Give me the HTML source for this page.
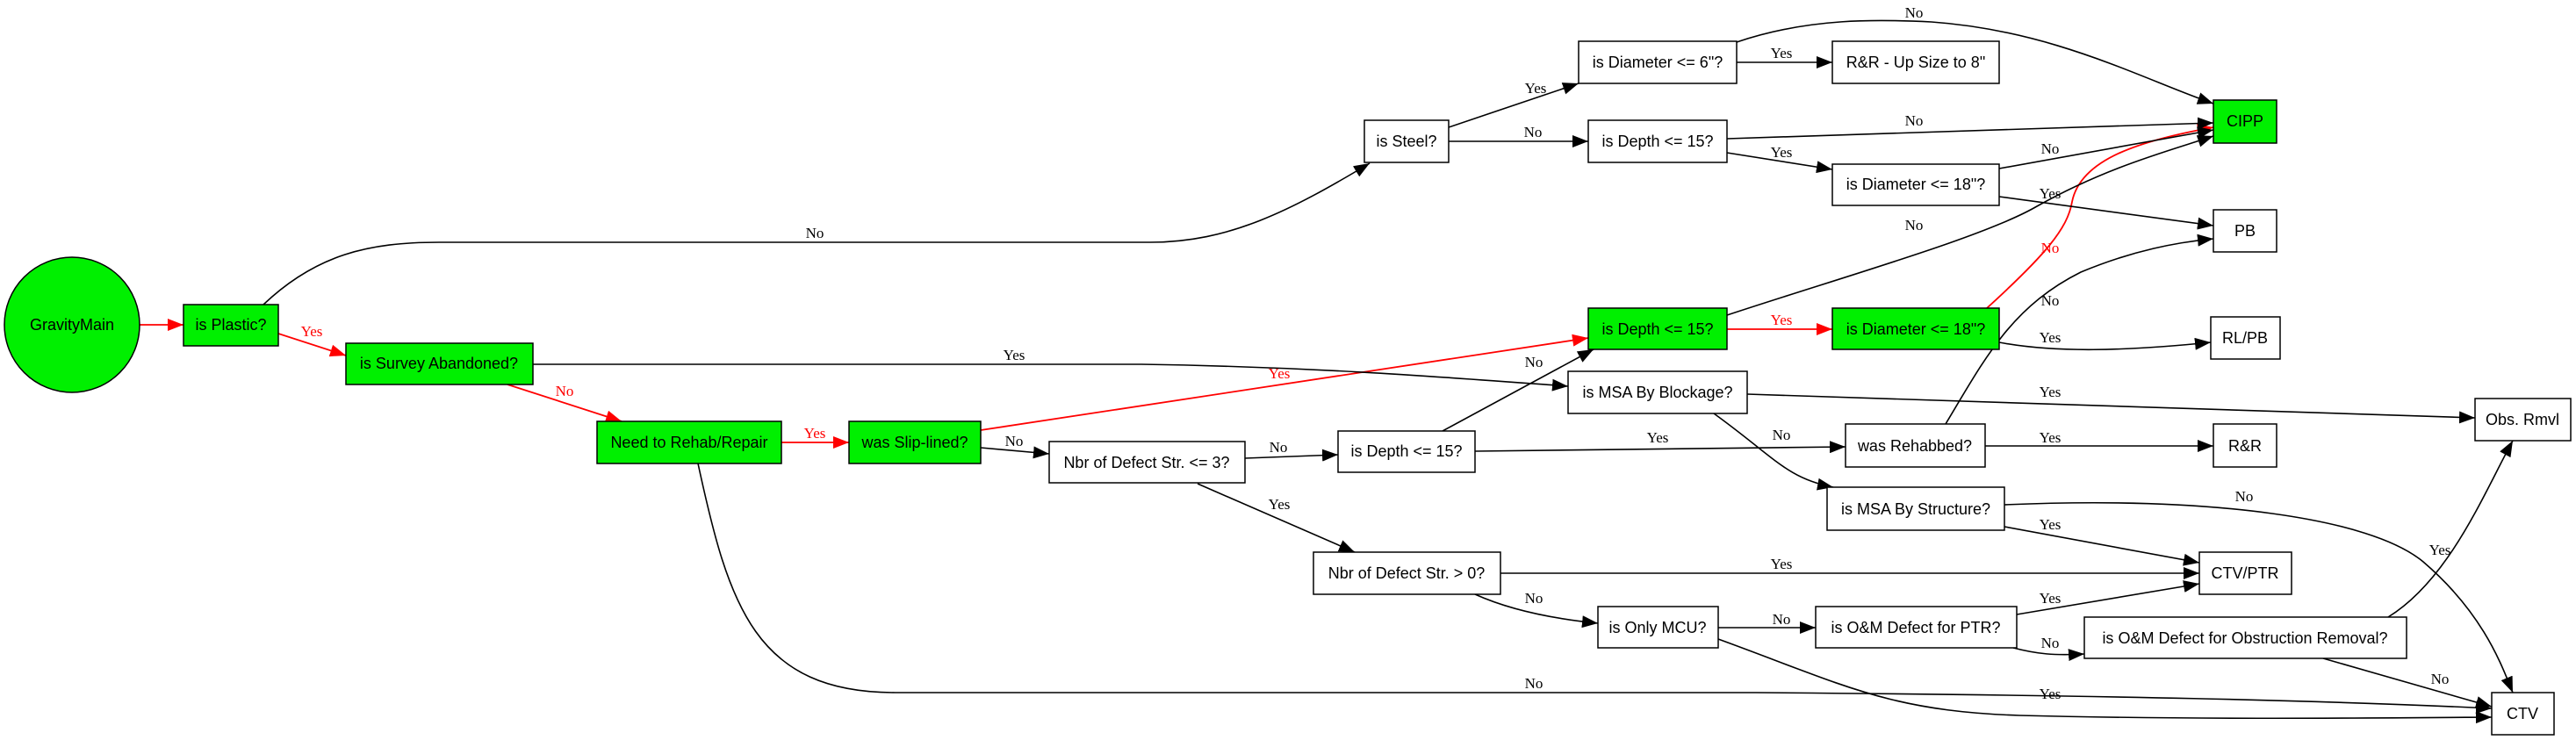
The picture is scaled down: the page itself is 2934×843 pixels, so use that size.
<!DOCTYPE html>
<html><head><meta charset="utf-8"><style>
html,body{margin:0;padding:0;background:#fff;}
svg{display:block;}
.n{fill:#fff;stroke:#000;stroke-width:1.5;}
.g{fill:#00f000;stroke:#000;stroke-width:1.5;}
.t{font-family:"Liberation Sans",sans-serif;font-size:18px;text-anchor:middle;dominant-baseline:central;}
.l{font-family:"Liberation Serif",serif;font-size:17px;text-anchor:middle;}
.r{fill:red;}
.e{fill:none;stroke:#000;stroke-width:1.6;}
.er{fill:none;stroke:red;stroke-width:1.8;}
</style></head><body>
<svg width="2934" height="843" viewBox="0 0 2934 843" xmlns="http://www.w3.org/2000/svg">
<defs>
<marker id="ab" markerWidth="18" markerHeight="14" refX="18" refY="7" orient="auto" markerUnits="userSpaceOnUse"><path d="M0,0 L18,7 L0,14z" fill="#000"/></marker>
<marker id="ar" markerWidth="18" markerHeight="14" refX="18" refY="7" orient="auto" markerUnits="userSpaceOnUse"><path d="M0,0 L18,7 L0,14z" fill="red"/></marker>
</defs>

<!-- edges -->
<path class="er" d="M159,370 L209,370" marker-end="url(#ar)"/>
<path class="er" d="M317,380 L394,405" marker-end="url(#ar)"/>
<path class="er" d="M578,438 L708,480" marker-end="url(#ar)"/>
<path class="er" d="M890,504 L967,504" marker-end="url(#ar)"/>
<path class="er" d="M1117,490 L1809,385" marker-end="url(#ar)"/>
<path class="er" d="M1967,375 L2087,375" marker-end="url(#ar)"/>
<path class="er" d="M2263,351 C2330,290 2355,260 2360,230 C2370,180 2440,160 2521,145" marker-end="url(#ar)"/>

<path class="e" d="M300,347 C360,290 420,276 500,276 L1310,276 C1400,276 1470,240 1560,186" marker-end="url(#ab)"/>
<path class="e" d="M1650,145 L1798,95" marker-end="url(#ab)"/>
<path class="e" d="M1650,161 L1809,161" marker-end="url(#ab)"/>
<path class="e" d="M1978,71 L2087,71" marker-end="url(#ab)"/>
<path class="e" d="M1978,48 C2060,20 2140,22 2200,25 C2340,35 2440,90 2521,118" marker-end="url(#ab)"/>
<path class="e" d="M1967,158 L2521,140" marker-end="url(#ab)"/>
<path class="e" d="M1967,174 L2087,193" marker-end="url(#ab)"/>
<path class="e" d="M2277,192 L2521,148" marker-end="url(#ab)"/>
<path class="e" d="M2277,224 L2521,257" marker-end="url(#ab)"/>
<path class="e" d="M1967,359 C2100,315 2260,270 2320,235 C2400,190 2470,172 2521,155" marker-end="url(#ab)"/>
<path class="e" d="M2277,390 C2340,402 2420,400 2518,390" marker-end="url(#ab)"/>
<path class="e" d="M2216,483 C2260,410 2290,350 2370,310 C2430,285 2480,276 2521,272" marker-end="url(#ab)"/>
<path class="e" d="M607,415 L1300,415 C1500,418 1650,430 1786,440" marker-end="url(#ab)"/>
<path class="e" d="M1117,510 L1195,517" marker-end="url(#ab)"/>
<path class="e" d="M1418,522 L1524,518" marker-end="url(#ab)"/>
<path class="e" d="M1364,551 L1543,629" marker-end="url(#ab)"/>
<path class="e" d="M1643,491 L1815,398" marker-end="url(#ab)"/>
<path class="e" d="M1680,514 L2102,509" marker-end="url(#ab)"/>
<path class="e" d="M1709,653 L2505,653" marker-end="url(#ab)"/>
<path class="e" d="M1680,677 C1720,695 1770,705 1820,710" marker-end="url(#ab)"/>
<path class="e" d="M795,528 C830,690 860,789 1020,789 L2000,789 C2400,792 2650,798 2838,807" marker-end="url(#ab)"/>
<path class="e" d="M1990,449 L2819,476" marker-end="url(#ab)"/>
<path class="e" d="M1952,471 C2020,520 2035,545 2088,555" marker-end="url(#ab)"/>
<path class="e" d="M2261,508 L2521,508" marker-end="url(#ab)"/>
<path class="e" d="M2283,575 C2520,565 2700,590 2760,640 C2830,700 2850,760 2862,789" marker-end="url(#ab)"/>
<path class="e" d="M2283,600 L2505,641" marker-end="url(#ab)"/>
<path class="e" d="M2297,700 L2505,665" marker-end="url(#ab)"/>
<path class="e" d="M1957,715 L2068,715" marker-end="url(#ab)"/>
<path class="e" d="M2293,738 C2320,745 2340,747 2374,745" marker-end="url(#ab)"/>
<path class="e" d="M2720,703 C2790,660 2830,560 2862,502" marker-end="url(#ab)"/>
<path class="e" d="M2646,750 L2838,805" marker-end="url(#ab)"/>
<path class="e" d="M1957,728 C2100,780 2150,810 2300,815 C2500,820 2700,818 2838,817" marker-end="url(#ab)"/>

<!-- nodes -->
<ellipse class="g" cx="82" cy="370" rx="77" ry="77"/>
<text class="t" x="82" y="370">GravityMain</text>
<rect class="g" x="209" y="347" width="108" height="47"/><text class="t" x="263" y="370">is Plastic?</text>
<rect class="g" x="394" y="391" width="213" height="47"/><text class="t" x="500" y="414">is Survey Abandoned?</text>
<rect class="g" x="680" y="480" width="210" height="48"/><text class="t" x="785" y="504">Need to Rehab/Repair</text>
<rect class="g" x="967" y="480" width="150" height="48"/><text class="t" x="1042" y="504">was Slip-lined?</text>
<rect class="n" x="1554" y="137" width="96" height="48"/><text class="t" x="1602" y="161">is Steel?</text>
<rect class="n" x="1798" y="47" width="180" height="48"/><text class="t" x="1888" y="71">is Diameter &lt;= 6"?</text>
<rect class="n" x="1809" y="137" width="158" height="48"/><text class="t" x="1888" y="161">is Depth &lt;= 15?</text>
<rect class="g" x="1809" y="351" width="158" height="47"/><text class="t" x="1888" y="375">is Depth &lt;= 15?</text>
<rect class="n" x="1786" y="423" width="204" height="48"/><text class="t" x="1888" y="447">is MSA By Blockage?</text>
<rect class="n" x="2087" y="47" width="190" height="48"/><text class="t" x="2182" y="71">R&amp;R - Up Size to 8"</text>
<rect class="g" x="2521" y="114" width="72" height="49"/><text class="t" x="2557" y="138">CIPP</text>
<rect class="n" x="2087" y="187" width="190" height="47"/><text class="t" x="2182" y="210">is Diameter &lt;= 18"?</text>
<rect class="n" x="2521" y="239" width="72" height="48"/><text class="t" x="2557" y="263">PB</text>
<rect class="g" x="2087" y="351" width="190" height="47"/><text class="t" x="2182" y="375">is Diameter &lt;= 18"?</text>
<rect class="n" x="2518" y="361" width="79" height="48"/><text class="t" x="2557" y="385">RL/PB</text>
<rect class="n" x="1195" y="503" width="223" height="47"/><text class="t" x="1306" y="527">Nbr of Defect Str. &lt;= 3?</text>
<rect class="n" x="1524" y="491" width="156" height="47"/><text class="t" x="1602" y="514">is Depth &lt;= 15?</text>
<rect class="n" x="1496" y="629" width="213" height="48"/><text class="t" x="1602" y="653">Nbr of Defect Str. &gt; 0?</text>
<rect class="n" x="1820" y="691" width="137" height="47"/><text class="t" x="1888" y="715">is Only MCU?</text>
<rect class="n" x="2102" y="483" width="159" height="49"/><text class="t" x="2181" y="508">was Rehabbed?</text>
<rect class="n" x="2521" y="483" width="72" height="49"/><text class="t" x="2557" y="508">R&amp;R</text>
<rect class="n" x="2819" y="454" width="109" height="48"/><text class="t" x="2873" y="478">Obs. Rmvl</text>
<rect class="n" x="2081" y="555" width="202" height="49"/><text class="t" x="2182" y="580">is MSA By Structure?</text>
<rect class="n" x="2505" y="629" width="105" height="48"/><text class="t" x="2557" y="653">CTV/PTR</text>
<rect class="n" x="2068" y="691" width="229" height="47"/><text class="t" x="2182" y="715">is O&amp;M Defect for PTR?</text>
<rect class="n" x="2374" y="703" width="367" height="47"/><text class="t" x="2557" y="727">is O&amp;M Defect for Obstruction Removal?</text>
<rect class="n" x="2838" y="789" width="71" height="48"/><text class="t" x="2873" y="813">CTV</text>

<!-- labels -->
<text class="l r" x="355" y="383">Yes</text>
<text class="l r" x="643" y="451">No</text>
<text class="l r" x="928" y="499">Yes</text>
<text class="l r" x="1457" y="431">Yes</text>
<text class="l r" x="2029" y="370">Yes</text>
<text class="l r" x="2335" y="288">No</text>
<text class="l" x="928" y="271">No</text>
<text class="l" x="1749" y="106">Yes</text>
<text class="l" x="1746" y="156">No</text>
<text class="l" x="1155" y="410">Yes</text>
<text class="l" x="1747" y="418">No</text>
<text class="l" x="2180" y="20">No</text>
<text class="l" x="2029" y="66">Yes</text>
<text class="l" x="2180" y="143">No</text>
<text class="l" x="2029" y="179">Yes</text>
<text class="l" x="2335" y="175">No</text>
<text class="l" x="2335" y="226">Yes</text>
<text class="l" x="2180" y="262">No</text>
<text class="l" x="2335" y="348">No</text>
<text class="l" x="2335" y="390">Yes</text>
<text class="l" x="1155" y="508">No</text>
<text class="l" x="1456" y="515">No</text>
<text class="l" x="1457" y="580">Yes</text>
<text class="l" x="1888" y="504">Yes</text>
<text class="l" x="2029" y="648">Yes</text>
<text class="l" x="1747" y="687">No</text>
<text class="l" x="1747" y="784">No</text>
<text class="l" x="2335" y="452">Yes</text>
<text class="l" x="2029" y="501">No</text>
<text class="l" x="2335" y="504">Yes</text>
<text class="l" x="2556" y="571">No</text>
<text class="l" x="2335" y="603">Yes</text>
<text class="l" x="2335" y="687">Yes</text>
<text class="l" x="2029" y="711">No</text>
<text class="l" x="2335" y="738">No</text>
<text class="l" x="2779" y="632">Yes</text>
<text class="l" x="2779" y="779">No</text>
<text class="l" x="2335" y="796">Yes</text>
</svg>
</body></html>
